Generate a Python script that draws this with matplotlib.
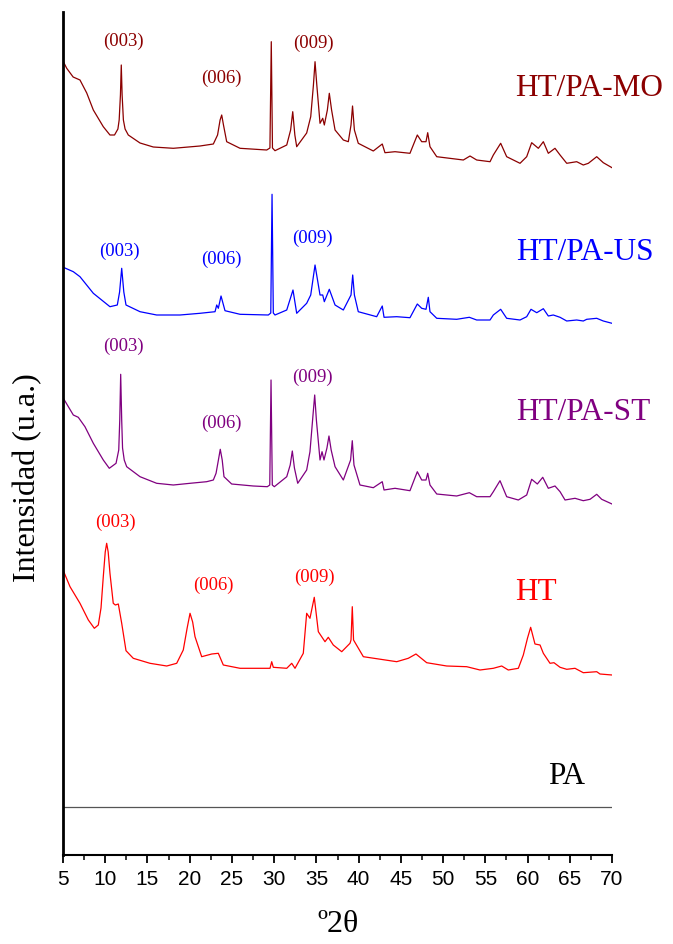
import matplotlib
matplotlib.use("Agg")
import matplotlib.pyplot as plt
from matplotlib.ticker import MultipleLocator
import numpy as np

# ---------------- data ----------------
# HT/PA-MO
mo_x = [5.04, 5.44, 6.20, 7.01, 7.81, 8.59, 9.77, 10.56, 11.10, 11.50, 11.65, 11.80, 11.90, 12.00,
        12.15, 12.35, 12.73, 14.12, 15.69, 18.06, 21.22, 22.80, 23.30, 23.60, 23.79, 24.00, 24.38,
        25.96, 29.12, 29.50, 29.66, 29.80, 30.10, 31.49, 31.95, 32.20, 32.45, 32.67, 33.85, 34.33,
        34.65, 34.84, 35.05, 35.43, 35.75, 35.94, 36.30, 36.53, 36.80, 37.21, 38.19, 38.78, 39.10,
        39.28, 39.50, 39.96, 41.74, 42.80, 43.12, 44.31, 46.08, 46.95, 47.47, 47.98, 48.18, 48.45,
        49.25, 52.40, 53.19, 53.98, 55.56, 55.95, 56.82, 57.53, 59.11, 59.90, 60.49, 61.28, 61.87,
        62.46, 63.25, 63.85, 64.64, 65.82, 66.60, 67.20, 68.19, 68.97, 70.0]
mo_y = [113.3, 106.7, 98, 95, 82, 65, 48.3, 40, 40, 46, 55, 80, 110, 80,
        55, 46, 40, 32, 28, 26.7, 29, 31, 40, 55, 60, 50, 33.3,
        26.7, 25, 27, 133.3, 27, 24.3, 30, 45, 63.3, 40, 28.3, 42, 58.3,
        90, 113.3, 90, 51.7, 56.7, 50, 65, 81.7, 65, 45, 35, 33.3, 50,
        69, 45, 31.7, 24, 31, 22.3, 23.3, 21.7, 40, 33.3, 33.3, 42.3, 28.3,
        18.3, 15, 19, 15, 13.3, 20, 31.7, 18.3, 11.7, 18.3, 32.3, 26.7, 33.3,
        21.7, 26.7, 20, 11.7, 13.3, 10, 11.7, 18.3, 12.3, 7.3]

# HT/PA-US
us_x = [5.04, 6.22, 7.01, 8.59, 10.56, 11.43, 11.70, 11.95, 12.20, 12.46, 14.12, 16.09, 18.85, 21.22,
        23.00, 23.20, 23.39, 23.71, 24.18, 25.96, 29.31, 29.60, 29.75, 29.90, 30.10, 31.49, 32.23,
        32.67, 33.85, 34.33, 34.84, 35.43, 35.75, 35.94, 36.53, 37.21, 38.19, 39.10, 39.30, 39.50,
        39.96, 42.14, 42.80, 43.01, 44.51, 46.08, 46.95, 47.47, 47.98, 48.25, 48.45, 49.25, 51.61,
        53.11, 53.98, 55.56, 55.95, 56.82, 57.53, 59.11, 59.90, 60.41, 61.09, 61.87, 62.46, 63.05,
        63.85, 64.64, 65.82, 66.60, 67.01, 68.19, 68.97, 70.0]
us_y = [62.7, 58.3, 53.3, 36.7, 23.3, 25, 38, 61.7, 38, 25, 18.3, 15, 15, 16.7,
        18.3, 25, 21.7, 34, 19.3, 15.7, 15, 17, 135.7, 17, 15, 20, 40,
        16.7, 26.7, 35, 65, 35, 35, 28.3, 40.7, 25, 20, 35, 55, 35,
        18.3, 13.3, 24, 12.7, 13.3, 12.3, 26, 21.7, 20.7, 32.7, 18.3, 11.7, 10.7,
        12.7, 10, 10, 15, 20.7, 11.7, 10, 13.3, 20.7, 17.3, 21.3, 14, 15,
        12.7, 9, 10, 9, 10.7, 11.7, 9, 6.7]

# HT/PA-ST
st_x = [5.04, 6.22, 6.81, 7.60, 8.59, 9.77, 10.48, 11.28, 11.60, 11.72, 11.83, 11.95, 12.05, 12.25,
        12.54, 14.12, 16.09, 18.06, 20.04, 22.01, 22.80, 23.12, 23.40, 23.62, 23.85, 24.06, 24.97,
        27.53, 29.19, 29.48, 29.63, 29.78, 30.02, 31.49, 31.90, 32.15, 32.40, 32.79, 33.85, 34.24,
        34.60, 34.80, 35.00, 35.43, 35.67, 35.90, 36.25, 36.49, 36.75, 37.21, 38.19, 39.05, 39.25,
        39.45, 40.16, 41.74, 42.80, 43.01, 44.31, 46.08, 46.95, 47.47, 47.98, 48.18, 48.45, 49.25,
        51.61, 53.11, 53.98, 55.56, 55.95, 56.74, 57.53, 58.91, 59.90, 60.49, 61.16, 61.80, 62.46,
        63.25, 63.85, 64.44, 65.62, 66.60, 67.40, 68.19, 68.78, 70.0]
st_y = [111.7, 95, 92.7, 83.3, 66.7, 50, 41.7, 46.7, 60, 90, 135.7, 90, 62, 50,
        43.3, 33.3, 26.7, 25, 26.7, 28.3, 30, 36.7, 50, 60.7, 50, 33.3, 26,
        24, 23.3, 25, 130, 25, 23.3, 33.3, 45, 59, 42, 26.7, 40, 58.3,
        95, 115, 90, 50, 58.3, 50, 62, 74, 60, 43.3, 30, 50, 69.3,
        45, 25, 22.3, 28.3, 20, 21.7, 19.3, 38.3, 30, 30, 36.7, 25, 16,
        14, 17.3, 13.3, 13.3, 18.3, 29.3, 13.3, 10, 15, 30.7, 26, 32.7, 21.7,
        24, 18.3, 10, 11.7, 9.3, 10.7, 15.7, 10.7, 6]

# HT
ht_x = [5.04, 5.83, 7.01, 8.00, 8.71, 9.18, 9.50, 9.77, 10.00, 10.17, 10.35, 10.56, 10.95, 11.20,
        11.55, 11.95, 12.46, 13.32, 15.30, 17.28, 18.46, 19.24, 19.70, 20.04, 20.35, 20.63, 21.42,
        22.61, 23.39, 23.98, 25.96, 29.51, 29.71, 29.90, 31.49, 32.08, 32.47, 33.45, 33.85, 34.24,
        34.75, 35.23, 36.02, 36.41, 37.00, 38.00, 38.98, 39.10, 39.25, 39.40, 40.56, 44.51, 45.88,
        46.79, 48.06, 50.43, 52.80, 54.37, 55.95, 56.94, 57.72, 58.91, 59.50, 60.00, 60.37, 60.88,
        61.48, 61.87, 62.66, 63.13, 63.85, 64.64, 65.62, 66.60, 68.19, 68.58, 70.0]
ht_y = [109.3, 93.3, 76.7, 60, 51.7, 55, 72, 103.3, 128, 136.7, 128, 106.7, 76.7, 75,
        76, 56.7, 29.3, 21.7, 16.7, 14, 16.7, 30, 52, 66.7, 58, 43.3, 23.3,
        26, 26.7, 15, 11.7, 11.7, 18.3, 12.7, 11.7, 16.7, 11.7, 26.7, 66.7, 61.7,
        82.7, 48.3, 38.3, 42.7, 35, 28.3, 36.7, 40, 73.3, 40, 23.3, 18.3, 21.7,
        26, 17.3, 14, 13.3, 10, 11.7, 14, 10, 11.7, 25, 42, 52.7, 36,
        35, 26.7, 16.7, 17.3, 12.7, 10.7, 11.7, 7.3, 8.3, 6, 5]

# PA (flat)
pa_x = [5.0, 70.0]
pa_y = [0.0, 0.0]

series_names = ["HT/PA-MO", "HT/PA-US", "HT/PA-ST", "HT", "PA"]
peak_labels = ["(003)", "(006)", "(009)"]

# ---------------- style / layout ----------------
W, H = 673, 944
fig = plt.figure(figsize=(W / 100, H / 100), dpi=100)
ax_left, ax_right, ax_bottom, ax_top = 63, 612, 855, 12
ax = fig.add_axes([ax_left / W, (H - ax_bottom) / H, (ax_right - ax_left) / W, (ax_bottom - ax_top) / H])

offsets = {"HT/PA-MO": 680, "HT/PA-US": 525, "HT/PA-ST": 345, "HT": 175, "PA": 48}
colors = {"HT/PA-MO": "#8B0000", "HT/PA-US": "#0000FF", "HT/PA-ST": "#800080", "HT": "#FF0000", "PA": "#555555"}
data = {"HT/PA-MO": (mo_x, mo_y), "HT/PA-US": (us_x, us_y), "HT/PA-ST": (st_x, st_y),
        "HT": (ht_x, ht_y), "PA": (pa_x, pa_y)}

for name in series_names:
    x, y = data[name]
    ax.plot(x, np.asarray(y) + offsets[name], color=colors[name], lw=0.9)

serif = ["Liberation Serif", "DejaVu Serif"]
# series labels (left edge x in 2theta, y in plot units)
name_pos = {"HT/PA-MO": (58.5, 766), "HT/PA-US": (58.7, 603), "HT/PA-ST": (58.7, 442),
            "HT": (58.5, 262), "PA": (62.4, 79)}
for name in series_names:
    c = "black" if name == "PA" else colors[name]
    xx, yy = name_pos[name]
    ax.text(xx, yy, name, color=c, fontsize=22.5, family=serif, ha="left", va="center")

# peak labels (centre positions)
peak_pos = {
    "HT/PA-MO": [(12.1, 814), (23.7, 777), (34.6, 812)],
    "HT/PA-US": [(11.7, 604), (23.8, 596), (34.5, 617)],
    "HT/PA-ST": [(12.1, 509), (23.7, 432), (34.5, 478)],
    "HT": [(11.2, 333), (22.8, 270), (34.8, 278)],
}
for name, plist in peak_pos.items():
    for lab, (xx, yy) in zip(peak_labels, plist):
        ax.text(xx, yy, lab, color=colors[name], fontsize=13.5, family=serif, ha="center", va="center")

ax.set_xlim(5, 70)
ax.set_ylim(0, 843)
ax.xaxis.set_major_locator(MultipleLocator(5))
ax.xaxis.set_minor_locator(MultipleLocator(2.5))
ax.set_yticks([])
for s in ["top", "right"]:
    ax.spines[s].set_visible(False)
ax.spines["left"].set_linewidth(2.0)
ax.spines["bottom"].set_linewidth(1.5)
ax.tick_params(axis="x", which="major", direction="out", length=6, width=1.3, pad=5)
ax.tick_params(axis="x", which="minor", direction="out", length=3.5, width=1.1)
for lab in ax.get_xticklabels():
    lab.set_family(["Liberation Sans"])
    lab.set_fontsize(15)

ax.set_xlabel("º2θ", fontsize=23, family=serif, labelpad=15)
ax.set_ylabel("Intensidad (u.a.)", fontsize=23, family=serif, va="center")
ax.yaxis.set_label_coords((28 - ax_left) / (ax_right - ax_left), (ax_bottom - 478) / (ax_bottom - ax_top))

fig.savefig("out.png", dpi=100)
